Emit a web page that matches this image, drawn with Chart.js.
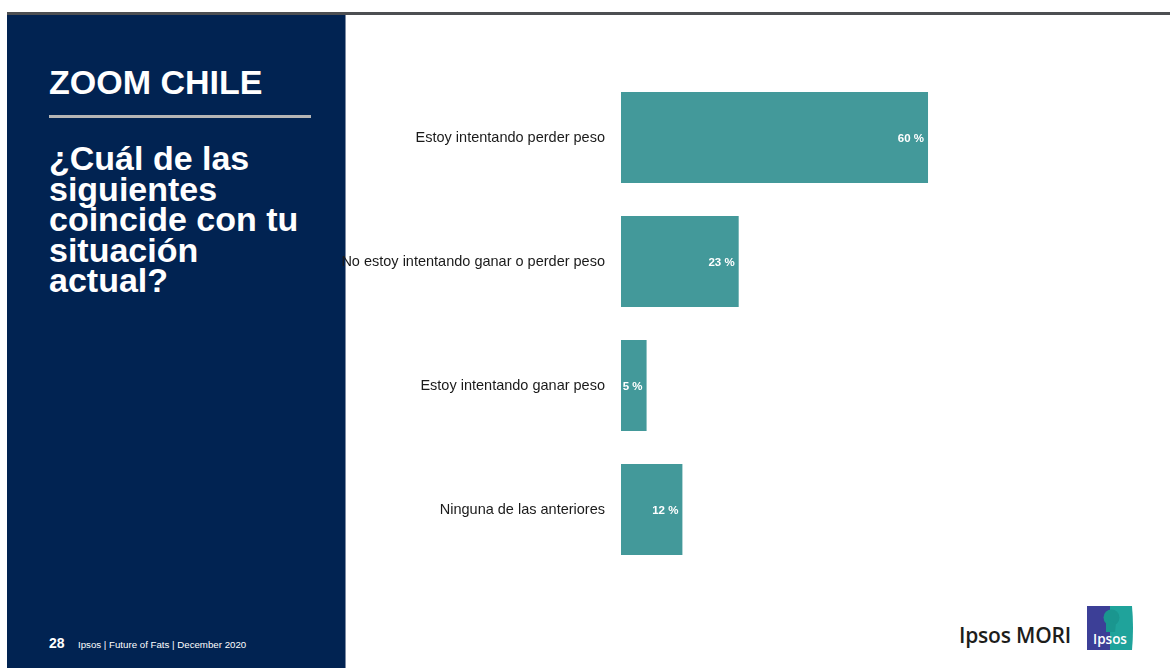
<!DOCTYPE html>
<html lang="es">
<head>
<meta charset="utf-8">
<title>Zoom Chile</title>
<script src="https://cdn.jsdelivr.net/npm/chart.js@4/dist/chart.umd.min.js"></script>
<style>
  html, body { margin: 0; padding: 0; background: #ffffff; }
  body { width: 1170px; height: 668px; position: relative; overflow: hidden; font-family: "Liberation Sans", Arial, sans-serif; }
  .topline { position: absolute; left: 7px; top: 12px; width: 1163px; height: 3px; background: #4d4f52; }
  .panel { position: absolute; left: 7px; top: 15px; width: 338px; height: 653px; background: #012352; border-right: 1px solid #7d8ba3; }
  .kicker { position: absolute; left: 49px; top: 65px; font-size: 34px; line-height: 34px; font-weight: bold; color: #ffffff; white-space: nowrap; }
  .rule { position: absolute; left: 49px; top: 115px; width: 262px; height: 3px; background: #b5b5b5; }
  .question { position: absolute; left: 49px; top: 143px; font-size: 34px; line-height: 30.5px; font-weight: bold; color: #ffffff; }
  .pnum { position: absolute; left: 49px; top: 636px; font-size: 14px; line-height: 14px; font-weight: bold; color: #ffffff; }
  .source { position: absolute; left: 78px; top: 639px; font-size: 9.7px; line-height: 11px; color: #ffffff; white-space: nowrap; }
  .brand { position: absolute; left: 959px; top: 620px; font-family: "Open Sans", sans-serif; font-weight: 600; font-size: 21px; line-height: 30px; color: #1d1d1b; white-space: nowrap; letter-spacing: -0.2px; }
  .logo { position: absolute; left: 1087px; top: 605px; }
  #chart { position: absolute; left: 0; top: 0; }
</style>
</head>
<body>
<div class="topline"></div>
<div class="panel"></div>
<div class="kicker">ZOOM CHILE</div>
<div class="rule"></div>
<div class="question">¿Cuál de las<br>siguientes<br>coincide con tu<br>situación<br>actual?</div>
<div class="pnum">28</div>
<div class="source">Ipsos | Future of Fats | December 2020</div>
<div class="brand">Ipsos MORI</div>
<svg class="logo" width="47" height="46" viewBox="0 0 47 46">
  <rect x="0" y="1" width="24" height="44" fill="#3c3f97"/>
  <path d="M23 1 L45 1 Q47 23 45 45 L23 45 Z" fill="#1fa39b"/>
  <circle cx="24.5" cy="12.5" r="8" fill="#1a968f"/>
  <path d="M19 14 L19 27 L28 27 L29 18 Z" fill="#1a968f"/>
  <text x="23" y="38.5" text-anchor="middle" font-family="Open Sans, sans-serif" font-weight="600" font-size="13.5" fill="#ffffff">Ipsos</text>
</svg>
<canvas id="chart" width="1170" height="668"></canvas>
<script>
// Answer options and the share of respondents choosing each (%)
const categories = [
  "Estoy intentando perder peso",
  "No estoy intentando ganar o perder peso",
  "Estoy intentando ganar peso",
  "Ninguna de las anteriores"
];
const shares = [60, 23, 5, 12];
const axisMax = 100;

// Writes "NN %" inside the end of every bar
const valueLabels = {
  id: 'valueLabels',
  afterDatasetsDraw(chart) {
    const ctx = chart.ctx;
    const meta = chart.getDatasetMeta(0);
    ctx.save();
    ctx.font = 'bold 11.5px "Liberation Sans", Arial, sans-serif';
    ctx.fillStyle = '#ffffff';
    ctx.textAlign = 'right';
    ctx.textBaseline = 'middle';
    meta.data.forEach((bar, i) => {
      const v = chart.data.datasets[0].data[i];
      ctx.fillText(v + ' %', bar.x - 4, bar.y + 1);
    });
    ctx.restore();
  }
};

new Chart(document.getElementById('chart'), {
  type: 'bar',
  data: {
    labels: categories,
    datasets: [{
      data: shares,
      backgroundColor: '#43999a',
      borderWidth: 0,
      categoryPercentage: 1,
      barPercentage: 0.734
    }]
  },
  options: {
    indexAxis: 'y',
    responsive: false,
    animation: false,
    events: [],
    layout: { padding: { top: 75.5, bottom: 96.5, left: 0, right: 37.3 } },
    plugins: { legend: { display: false }, tooltip: { enabled: false } },
    scales: {
      x: { display: false, min: 0, max: axisMax },
      y: {
        grid: { display: false, drawTicks: false },
        border: { display: false },
        ticks: {
          color: '#1a1a1a',
          padding: 16,
          font: { family: '"Liberation Sans", Arial, sans-serif', size: 14.5 }
        },
        afterFit(scale) { scale.width = 621; }
      }
    }
  },
  plugins: [valueLabels]
});
</script>
</body>
</html>
